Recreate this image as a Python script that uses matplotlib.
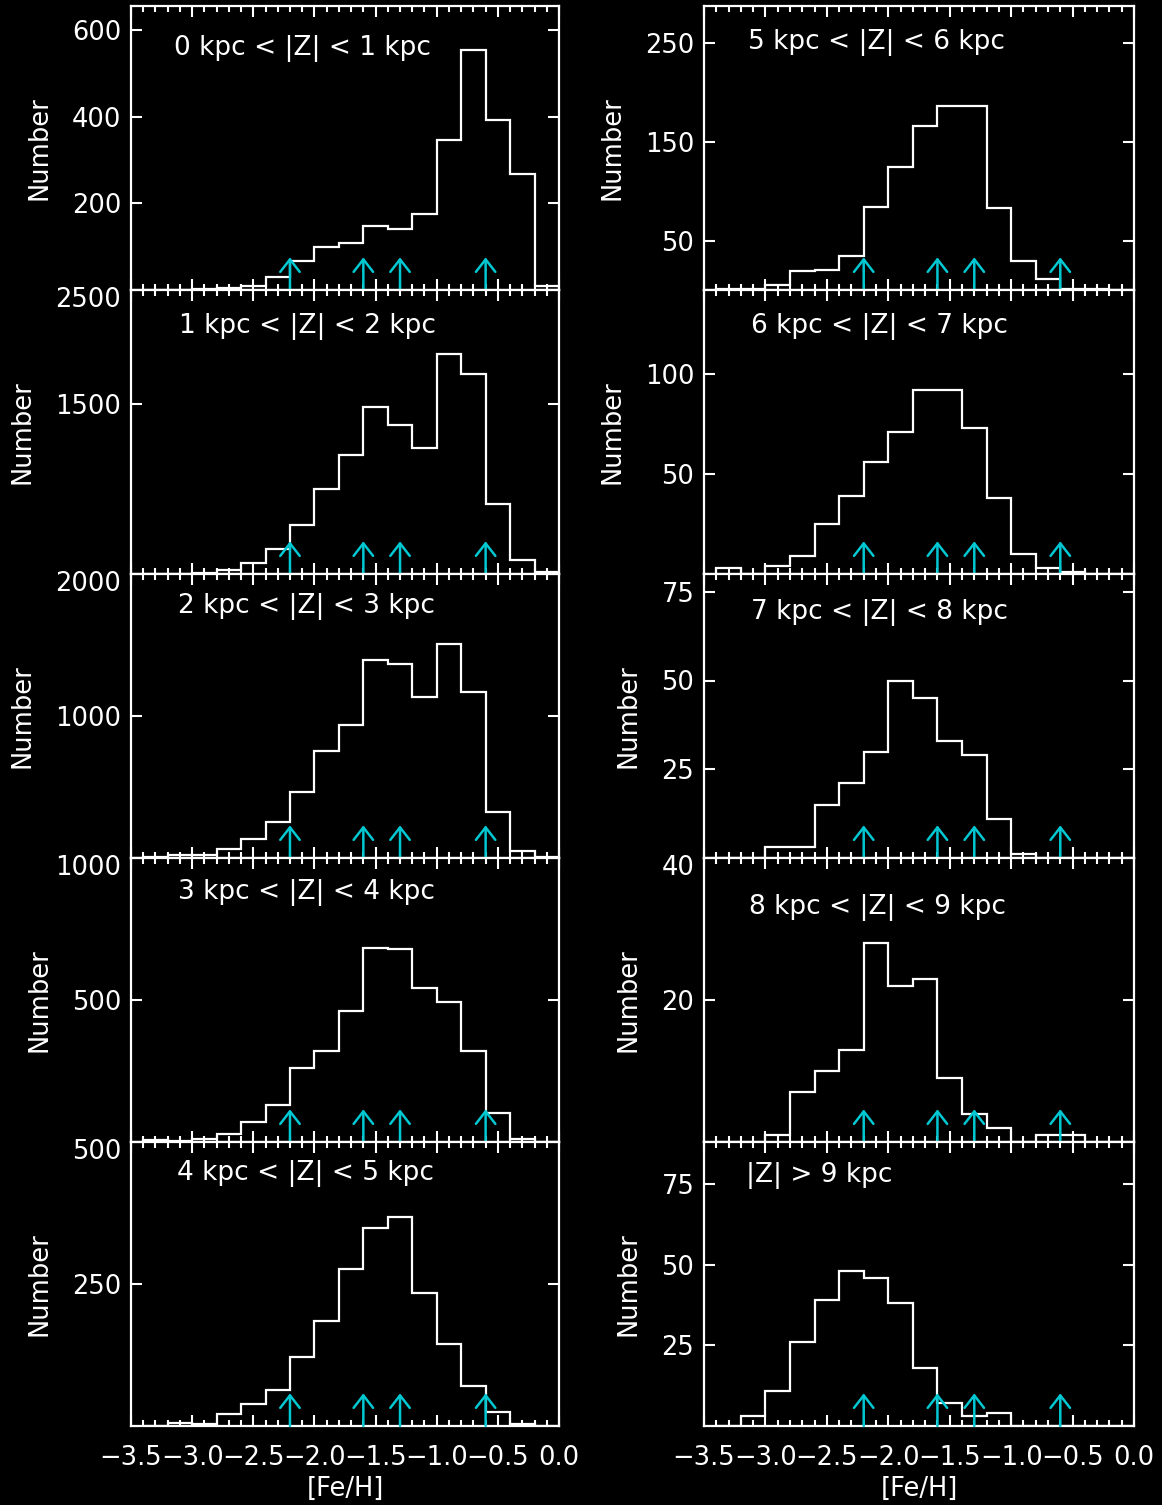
import matplotlib
matplotlib.use("Agg")
import matplotlib.pyplot as plt
from matplotlib.ticker import MultipleLocator

# [Fe/H] bin edges (0.2 dex bins)
edges = [-3.4, -3.2, -3.0, -2.8, -2.6, -2.4, -2.2, -2.0, -1.8, -1.6,
         -1.4, -1.2, -1.0, -0.8, -0.6, -0.4, -0.2, 0.0]

# counts per bin
n_0_1 = [1, 1, 3, 5, 9, 29, 66, 100, 109, 147, 140, 175, 347, 554, 393, 267, 9]
n_1_2 = [2, 3, 8, 38, 97, 220, 431, 748, 1048, 1470, 1312, 1112, 1940, 1761, 619, 126, 18]
n_2_3 = [8, 18, 22, 65, 131, 252, 462, 753, 937, 1394, 1366, 1131, 1506, 1166, 326, 47, 5]
n_3_4 = [6, 3, 12, 28, 70, 129, 262, 321, 463, 682, 680, 543, 493, 320, 102, 12, 0]
n_4_5 = [0, 6, 3, 21, 39, 64, 122, 185, 276, 348, 368, 235, 144, 71, 25, 3, 0]
n_5_6 = [1, 1, 5, 19, 20, 34, 84, 124, 166, 186, 186, 83, 29, 11, 1, 1, 0]
n_6_7 = [3, 0, 4, 9, 25, 39, 56, 71, 92, 92, 73, 38, 10, 3, 1, 0, 0]
n_7_8 = [0, 0, 3, 3, 15, 21, 30, 50, 45, 33, 29, 11, 1, 0, 0, 0, 0]
n_8_9 = [0, 0, 1, 7, 10, 13, 28, 22, 23, 9, 4, 2, 0, 1, 1, 0, 0]
n_gt9 = [0, 3, 11, 26, 39, 48, 46, 38, 18, 7, 3, 4, 0, 0, 0, 0, 0]

counts = [n_0_1, n_1_2, n_2_3, n_3_4, n_4_5,
          n_5_6, n_6_7, n_7_8, n_8_9, n_gt9]

labels = ["0 kpc < |Z| < 1 kpc", "1 kpc < |Z| < 2 kpc", "2 kpc < |Z| < 3 kpc",
          "3 kpc < |Z| < 4 kpc", "4 kpc < |Z| < 5 kpc", "5 kpc < |Z| < 6 kpc",
          "6 kpc < |Z| < 7 kpc", "7 kpc < |Z| < 8 kpc", "8 kpc < |Z| < 9 kpc",
          "|Z| > 9 kpc"]

ymax = [656, 2500, 2000, 1000, 500, 287, 142, 80, 40, 88]
yticks = [[200, 400, 600], [1500, 2500], [1000, 2000], [500, 1000], [250, 500],
          [50, 150, 250], [50, 100], [25, 50, 75], [20, 40], [25, 50, 75]]

# marker arrows in [Fe/H]
arrow_x = [-2.2, -1.6, -1.3, -0.6]

cyan = "#00c8d2"
W, H = 1162, 1505
col_left = [131, 704]
col_width = [428, 430]
row_top = [6, 290, 574, 858, 1142]
row_h = 284

lab_x = [0.100, 0.112, 0.109, 0.110, 0.108, 0.102, 0.110, 0.110, 0.105, 0.098]
lab_y = [0.85, 0.87, 0.884, 0.88, 0.89, 0.873, 0.87, 0.866, 0.827, 0.883]

fig = plt.figure(figsize=(W / 100, H / 100), dpi=100, facecolor="black")

for i in range(10):
    col, row = i // 5, i % 5
    left = col_left[col] / W
    bottom = 1 - (row_top[row] + row_h) / H
    ax = fig.add_axes([left, bottom, col_width[col] / W, row_h / H])
    ax.set_facecolor("black")

    ax.stairs(counts[i], edges, baseline=0, color="white", lw=1.6)

    for xa in arrow_x:
        tr = ax.get_xaxis_transform()
        ax.annotate("", xy=(xa, 0.115), xytext=(xa, 0.0), xycoords=tr, textcoords=tr,
                    arrowprops=dict(arrowstyle="->,head_length=0.45,head_width=0.35",
                                    color=cyan, lw=1.8, shrinkA=0, shrinkB=0,
                                    mutation_scale=20))

    ax.set_xlim(-3.5, 0.0)
    ax.set_ylim(0, ymax[i])
    ax.set_yticks(yticks[i])
    # a label sitting on the panel's top edge is drawn a bit lower, as in the original
    ax.set_yticklabels(["" if v >= ymax[i] else str(v) for v in yticks[i]])
    for v in yticks[i]:
        if v >= ymax[i]:
            ax.annotate(str(v), xy=(0, v), xycoords=("axes fraction", "data"),
                        xytext=(-7, -7.5), textcoords="offset points",
                        ha="right", va="center", color="white", fontsize=18.5)

    ax.xaxis.set_major_locator(MultipleLocator(0.5))
    ax.xaxis.set_minor_locator(MultipleLocator(0.1))
    ax.tick_params(which="both", direction="in", top=True, right=True,
                   colors="white", labelsize=18.5, width=1.5)
    ax.tick_params(which="major", length=8)
    ax.tick_params(which="minor", length=4)
    ax.tick_params(axis="y", pad=7)
    ax.tick_params(axis="x", pad=14)
    for s in ax.spines.values():
        s.set_color("white")
        s.set_linewidth(1.6)

    ax.set_ylabel("Number", color="white", fontsize=18.5, labelpad=14)
    ax.text(lab_x[i], lab_y[i], labels[i], transform=ax.transAxes,
            color="white", fontsize=19, ha="left", va="center")

    if row < 4:
        ax.tick_params(axis="x", labelbottom=False)
    else:
        ax.set_xlabel("[Fe/H]", color="white", fontsize=18.5, labelpad=3)

fig.savefig("out.png", dpi=100, facecolor="black")
